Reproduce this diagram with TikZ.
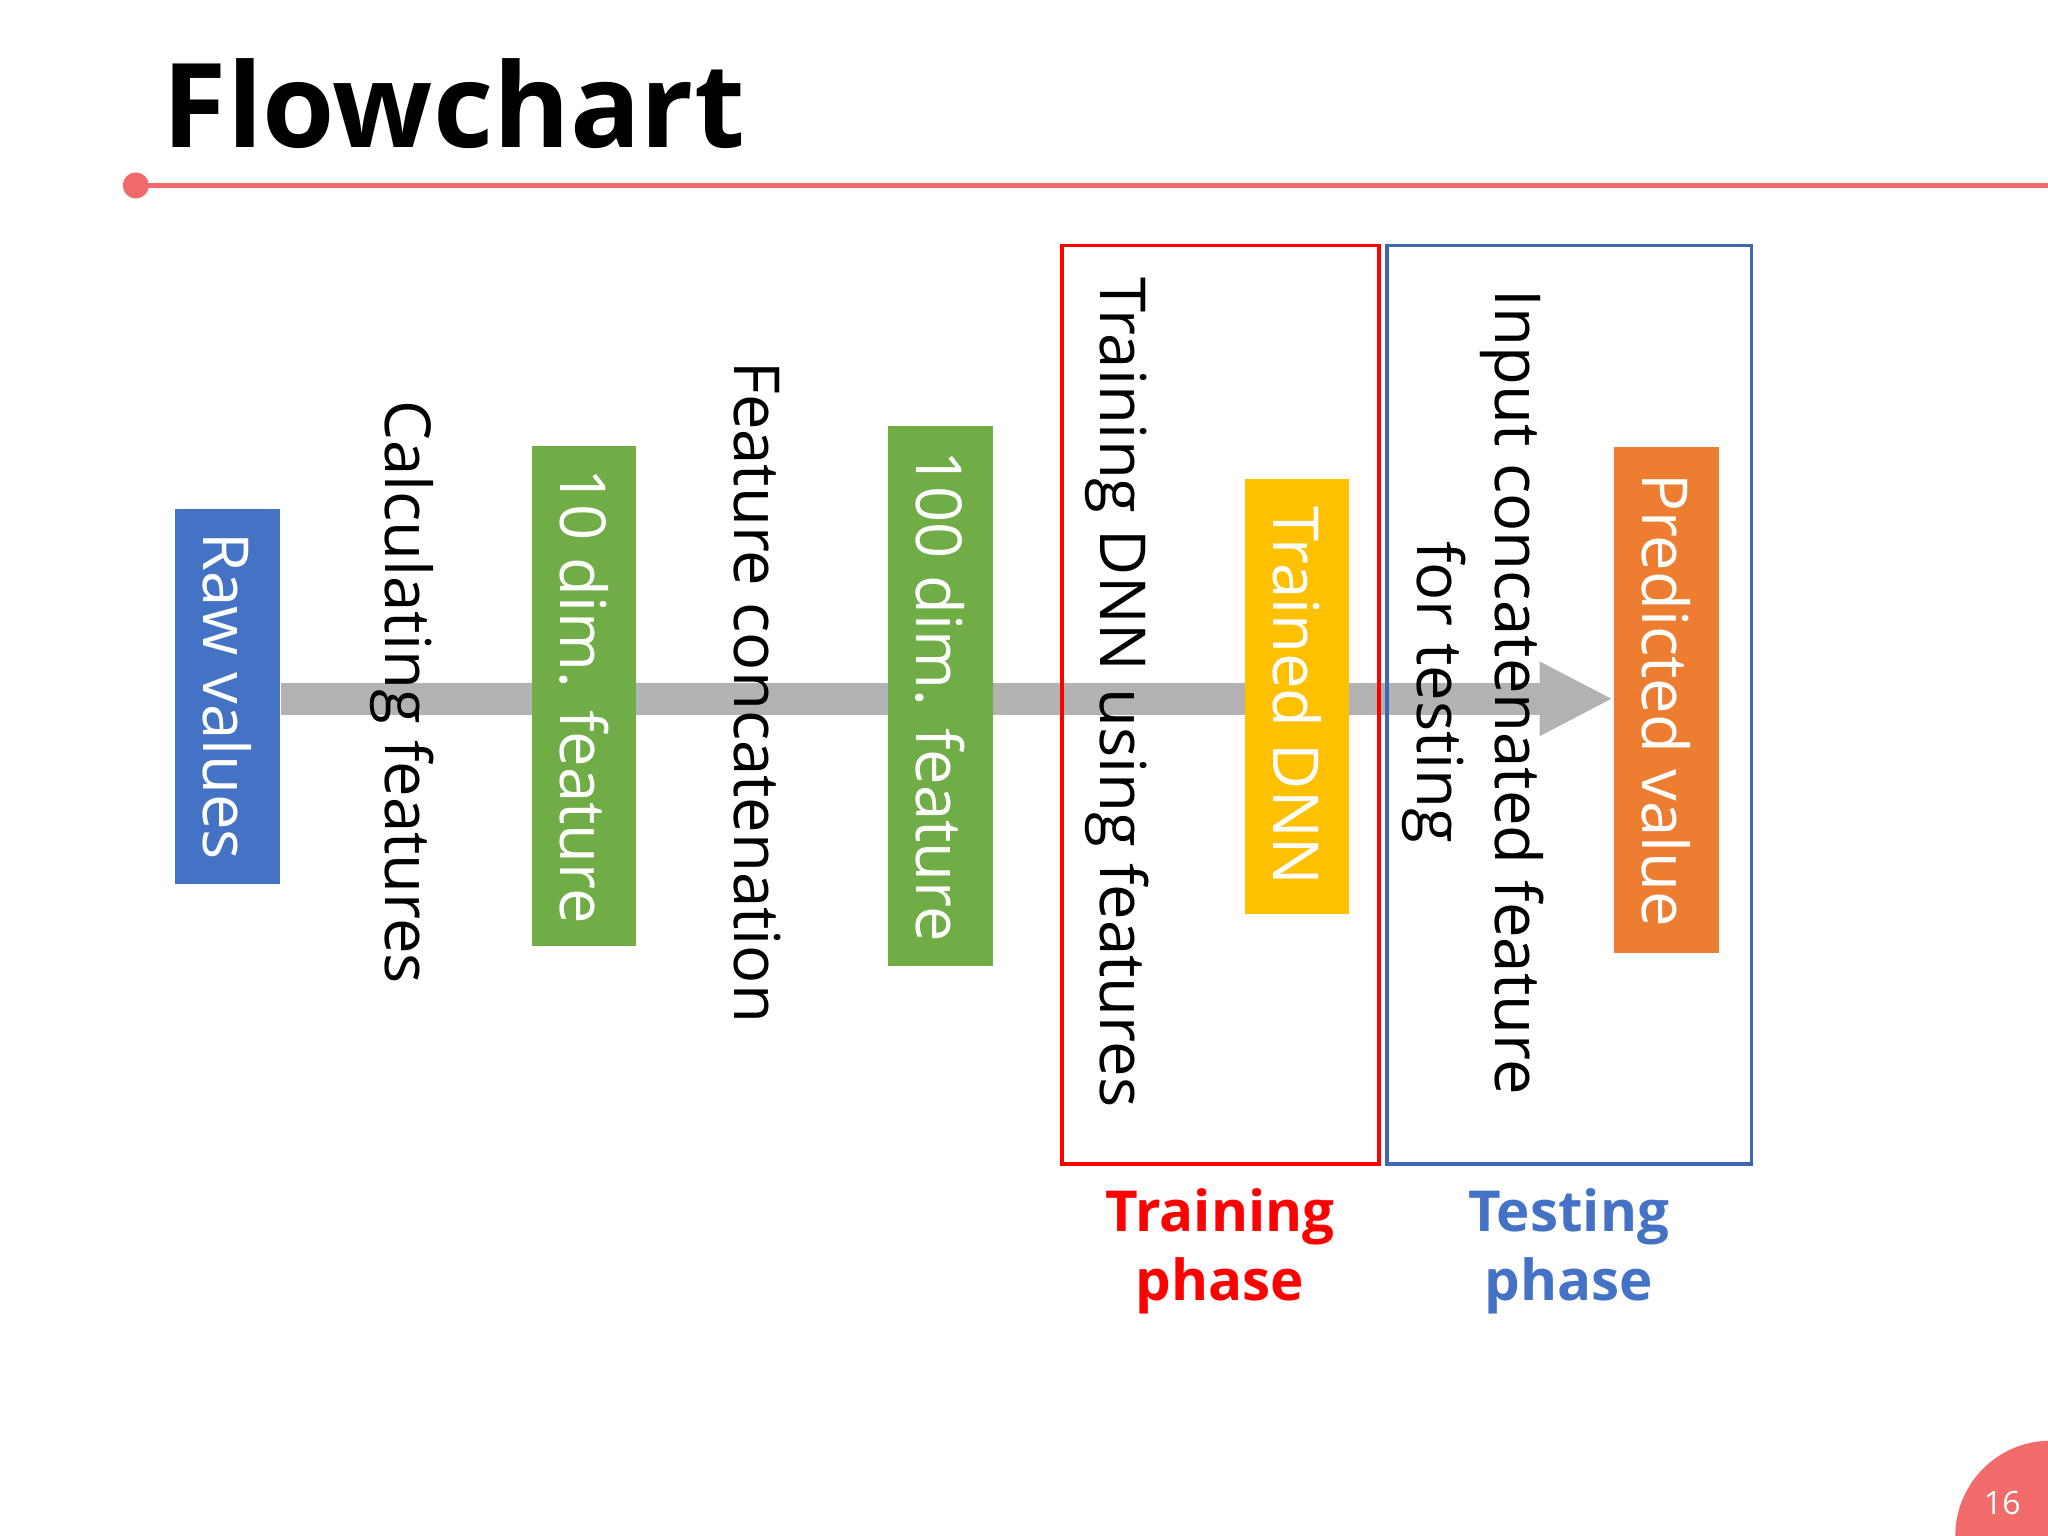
\documentclass[tikz,border=0pt]{standalone}
\usepackage{fontspec}
\setmainfont{Open Sans}
\usetikzlibrary{arrows.meta}
\definecolor{salm}{HTML}{F26B6B}
\definecolor{bblue}{HTML}{4472C4}
\definecolor{bgreen}{HTML}{70AD47}
\definecolor{bgold}{HTML}{FFC000}
\definecolor{borange}{HTML}{ED7D31}
\tikzset{
 boxn/.style={minimum height=0.8cm,rotate=-90,text=white,font=\fontsize{13.8}{17}\selectfont,inner sep=0pt},
 lab/.style={rotate=-90,font=\fontsize{13.8}{17}\selectfont,align=center},
 phase/.style={font=\bfseries\fontsize{12.3}{15}\selectfont,align=center}
}
\begin{document}
\begin{tikzpicture}[x=0.1mm,y=-0.1mm]
\useasboundingbox (0,0) rectangle (1568,1176);
\fill[white] (0,0) rectangle (1568,1176);
\node[anchor=base west,font=\bfseries\fontsize{25.5}{30}\selectfont,inner sep=0] (title) at (124,113) {Flowchart};
\draw[salm,line width=1.2pt] (105,142) -- (1568,142);
\fill[salm] (104,142) circle (10);
\coordinate (as) at (215,535);
\coordinate (ae) at (1235,535);
\draw[gray!60,line width=7pt,-{Triangle[length=16pt,width=15pt]}] (as) -- (ae);
\node[boxn,fill=bblue,minimum width=2.87cm] (raw) at (174,533) {Raw values};
\node[boxn,fill=bgreen,minimum width=3.83cm] (f10) at (447,533) {10 dim. feature};
\node[boxn,fill=bgreen,minimum width=4.13cm] (f100) at (720,533) {100 dim. feature};
\node[boxn,fill=bgold,minimum width=3.33cm] (dnn) at (993,533) {Trained DNN};
\node[boxn,fill=borange,minimum width=3.88cm] (pred) at (1276,536) {Predicted value};
\node[lab] (l1) at (308,530) {Calculating features};
\node[lab] (l2) at (580,530) {Feature concatenation};
\node[lab] (l3) at (855,530) {Training DNN using features};
\node[lab] (l4) at (1128,530) {Input concatenated feature\\for testing};
\draw[red,line width=0.8pt] (813,188) rectangle (1056,891);
\draw[bblue!90!black,line width=0.8pt] (1062,188) rectangle (1341,891);
\node[phase,text=red] (tp) at (934,958) {Training\\phase};
\node[phase,text=bblue] (sp) at (1201,958) {Testing\\phase};
\fill[salm] (1570,1176) circle (73);
\node[white,font=\fontsize{7}{8}\selectfont] (pg) at (1533,1151) {16};
\end{tikzpicture}
\end{document}
